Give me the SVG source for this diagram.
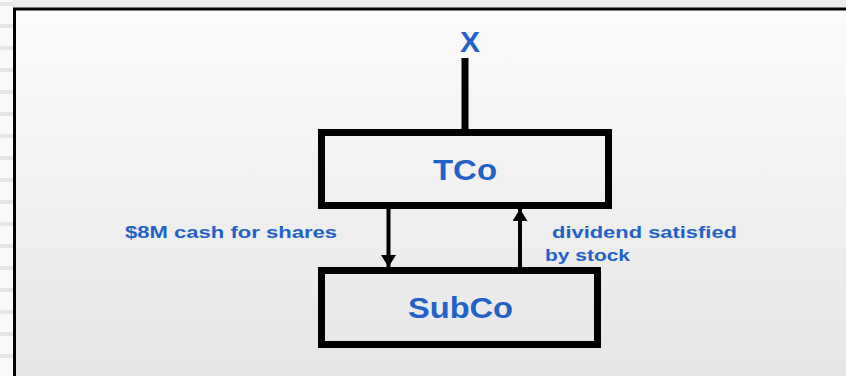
<svg xmlns="http://www.w3.org/2000/svg" width="846" height="376" viewBox="0 0 846 376">
  <defs>
    <linearGradient id="panel" x1="0" y1="0" x2="0" y2="1">
      <stop offset="0" stop-color="#fbfbfb"/>
      <stop offset="1" stop-color="#e6e6e6"/>
    </linearGradient>
    <pattern id="stripes" x="0" y="2" width="13" height="22" patternUnits="userSpaceOnUse">
      <rect width="13" height="22" fill="#fafafa"/>
      <rect width="13" height="4" fill="#e6e6e6"/>
    </pattern>
    <marker id="head" viewBox="0 0 12 15" refX="12" refY="7.5" markerWidth="12" markerHeight="15" markerUnits="userSpaceOnUse" orient="auto">
      <path d="M0,0 L12,7.5 L0,15 Z" fill="#000"/>
    </marker>
  </defs>
  <style>
    .box { fill: none; stroke: #000; stroke-width: 7; }
    .name { font-family: "Liberation Sans", Arial, sans-serif; font-weight: bold; font-size: 29px; fill: #2262c8; text-anchor: middle; }
    .label { font-family: "Liberation Sans", Arial, sans-serif; font-weight: bold; font-size: 17px; fill: #2262c8; }
    .flow { stroke: #000; stroke-width: 4; fill: none; marker-end: url(#head); }
  </style>

  <!-- page backdrop -->
  <rect x="0" y="0" width="846" height="376" fill="#ececec"/>
  <rect x="0" y="0" width="13" height="376" fill="url(#stripes)"/>
  <rect x="13" y="8" width="833" height="368" fill="url(#panel)"/>
  <path d="M14.5,376 V9 H846" fill="none" stroke="#000" stroke-width="3"/>

  <!-- owner -->
  <g id="owner-x">
    <text class="name" x="470" y="52" font-size="24" textLength="20" lengthAdjust="spacingAndGlyphs">X</text>
    <line x1="465" y1="58" x2="465" y2="129" stroke="#000" stroke-width="7"/>
  </g>

  <g id="tco">
    <rect class="box" x="321.5" y="132.5" width="287" height="73"/>
    <text class="name" x="465" y="180" textLength="64" lengthAdjust="spacingAndGlyphs">TCo</text>
  </g>

  <g id="subco">
    <rect class="box" x="321.5" y="270.5" width="276" height="74"/>
    <text class="name" x="460.5" y="318" textLength="105" lengthAdjust="spacingAndGlyphs">SubCo</text>
  </g>

  <g id="connectors">
    <line class="flow" x1="388.5" y1="209" x2="388.5" y2="267"/>
    <line class="flow" x1="520" y1="267" x2="520" y2="209"/>
  </g>

  <g id="labels">
    <text class="label" x="125" y="238" textLength="212" lengthAdjust="spacingAndGlyphs">$8M cash for shares</text>
    <text class="label" x="552" y="238" textLength="185" lengthAdjust="spacingAndGlyphs">dividend satisfied</text>
    <text class="label" x="545" y="261" textLength="85" lengthAdjust="spacingAndGlyphs">by stock</text>
  </g>
</svg>
